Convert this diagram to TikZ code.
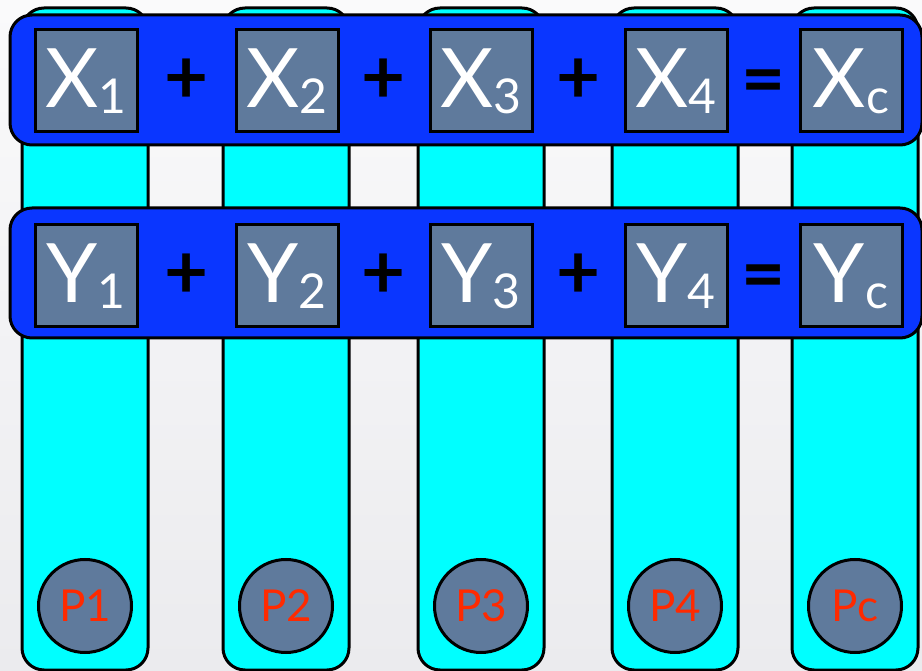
\documentclass[tikz,border=0pt]{standalone}
\usepackage{fontspec}
\usetikzlibrary{calc}
\setmainfont{Lato}
\definecolor{bgtop}{HTML}{FAFAFB}
\definecolor{bgbot}{HTML}{EBEBEE}
\definecolor{tubecyan}{HTML}{00FFFF}
\definecolor{bandblue}{HTML}{0A36FF}
\definecolor{slate}{HTML}{5F7A9C}
\definecolor{plabel}{HTML}{FF2A00}
\newcommand{\vlabel}[2]{{\fontsize{82}{82}\selectfont #1}\raisebox{-6pt}{\fontsize{48}{48}\selectfont #2}}
\tikzset{
  tube/.style={draw=black, line width=3pt, fill=tubecyan, rounded corners=22pt, minimum width=126pt, minimum height=662pt, inner sep=0pt},
  bandbox/.style={draw=black, line width=3pt, fill=bandblue, rounded corners=22pt, minimum width=912pt, minimum height=130pt, inner sep=0pt},
  var/.style={draw=black, line width=3pt, fill=slate, minimum size=102pt, inner sep=0pt, text=white},
  op/.style={font=\fontsize{76}{76}\selectfont\bfseries},
  proc/.style={circle, draw=black, line width=3pt, fill=slate, minimum size=93pt, inner sep=0pt, text=plabel, font=\fontsize{44}{44}\selectfont}
}
\begin{document}
\begin{tikzpicture}[x=1pt, y=-1pt]
  \useasboundingbox (0,0) rectangle (922,671);
  \shade[top color=bgtop, bottom color=bgbot] (0,0) rectangle (922,671);

  % processor tubes
  \foreach \n/\x in {1/85, 2/286, 3/481, 4/675, c/855} {
    \node[tube] (tube\n) at (\x,339) {};
    \node[proc] (p\n) at (\x,606) {P\n};
  }

  % the two reduction bands
  \node[bandbox] (xband) at (466,80) {};
  \node[bandbox] (yband) at (466,273) {};

  \foreach \n/\x in {1/86, 2/287, 3/481, 4/676, c/851} {
    \node[var] (x\n) at (\x,81) {\vlabel{X}{\n}};
    \node[var] (y\n) at (\x,276) {\vlabel{Y}{\n}};
  }

  % operators
  \foreach \a/\b in {1/2, 2/3, 3/4} {
    \node[op] at ($(x\a)!0.5!(x\b)$) {+};
    \node[op] at ($(y\a)!0.5!(y\b)$) {+};
  }
  \node[op, yshift=-7pt] at ($(x4)!0.5!(xc)$) {=};
  \node[op, yshift=-7pt] at ($(y4)!0.5!(yc)$) {=};
\end{tikzpicture}
\end{document}
